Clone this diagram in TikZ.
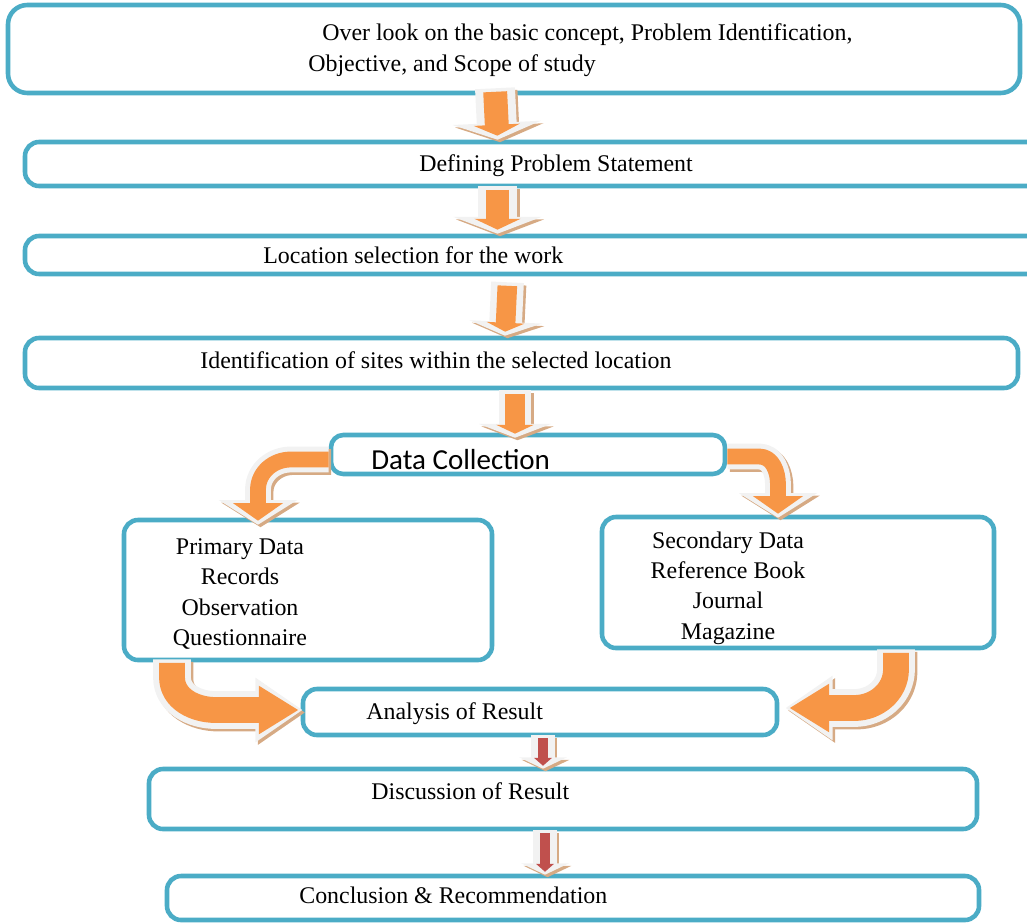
\documentclass[tikz,border=0pt]{standalone}
\usepackage{fontspec}
\setmainfont{Liberation Serif}
\newfontfamily\calibri{Carlito}
\usetikzlibrary{arrows.meta,fit,calc}
\definecolor{boxblue}{HTML}{4BACC6}
\definecolor{arrorange}{HTML}{F79646}
\definecolor{arrred}{HTML}{C0504D}
\definecolor{rimgray}{HTML}{F2F2F2}
\definecolor{shadowtan}{HTML}{D6AA84}
% block arrow: shadow, rim, then core
\def\BlockArrow#1#2#3{%
	\draw[#1,draw=shadowtan,transform canvas={shift={(2.5,2.5)}}] #3;
	\draw[#1] #3;
	\draw[#2] #3;}

\begin{document}
\begin{tikzpicture}[x=0.02cm,y=-0.02cm,% one unit is one pixel of the page, y going down
				every node/.style={align=center},
				box/.style={draw=boxblue,line width=2.6pt,rounded corners=8pt,inner sep=0pt},
				lbl/.style={font=\fontsize{13.6}{17.3}\selectfont,inner sep=0pt},
				sorim/.style={draw=rimgray,line width=#1*22.7pt,-{Triangle[width=50pt,length=9.6pt,scale=#1]}},
				socore/.style={draw=arrorange,line width=#1*13.6pt,shorten <=2pt,shorten >=2.3pt,-{Triangle[width=26pt,length=6.2pt,scale=#1]}},
				rdrim/.style={draw=rimgray,line width=13.6pt,-{Triangle[width=27pt,length=6.5pt]}},
				rdcore/.style={draw=arrred,line width=5.7pt,shorten <=1.7pt,shorten >=1.7pt,-{Triangle[width=10pt,length=4.5pt]}},
				ctrim/.style={draw=rimgray,line width=14.7pt,line join=round,-{Triangle[width=44pt,length=14pt]}},
				ctcore/.style={draw=arrorange,line width=9pt,line join=round,shorten >=2.3pt,-{Triangle[width=28pt,length=10pt]}},
				cbrim/.style={draw=rimgray,line width=21.5pt,line join=round,-{Triangle[width=35pt,length=27pt]}},
				cbcore/.style={draw=arrorange,line width=14.7pt,line join=round,shorten <=2pt,shorten >=2.3pt,-{Triangle[width=26pt,length=22.7pt]}}
			]
			\useasboundingbox (0,0) rectangle (1027,923);
			\clip (0,0) rectangle (1027,923);
			% boxes
			\node[box,rounded corners=11pt,fit={(8,5) (1020,93)}](R1){};
			\node[box,fit={(25,142) (1045,186)}](R2){};
			\node[box,fit={(25,236) (1045,274)}](R3){};
			\node[box,fit={(25,338) (1018,388)}](R4){};
			\node[box,rounded corners=7pt,fit={(331,435) (725,474)}](R5){};
			\node[box,fit={(124,520) (492,660)}](R6){};
			\node[box,fit={(602,517) (994,648)}](R7){};
			\node[box,fit={(303,689) (777,735)}](R8){};
			\node[box,fit={(149,769) (977,829)}](R9){};
			\node[box,fit={(167,876) (979,920)}](R10){};
			% texts
			\node[lbl,anchor=base west](T1a) at (322,40) {Over look on the basic concept, Problem Identification,};
			\node[lbl,anchor=base west](T1b) at (308,71) {Objective, and Scope of study};
			\node[lbl,anchor=base west](T2) at (419,171) {Defining Problem Statement};
			\node[lbl,anchor=base west](T3) at (263,263) {Location selection for the work};
			\node[lbl,anchor=base west](T4) at (200,368) {Identification of sites within the selected location};
			\node[lbl,anchor=base west,font=\calibri\fontsize{16.5}{20}\selectfont](T5) at (371,469) {Data Collection};
			\node[lbl](T6) at (240,594) {Primary Data \\ Records \\ Observation \\ Questionnaire};
			\node[lbl](T7) at (728,588) {Secondary Data \\ Reference Book \\ Journal \\ Magazine};
			\node[lbl,anchor=base west](T8) at (366,719) {Analysis of Result};
			\node[lbl,anchor=base west](T9) at (371,799) {Discussion of Result};
			\node[lbl,anchor=base west](T10) at (299,903) {Conclusion \& Recommendation};
			% straight arrows
			\BlockArrow{sorim=1}{socore=1}{($(R1.south)+(-19,-7)$) -- ($(R2.north)+(-37.5,0)$)}
			\BlockArrow{sorim=1}{socore=1}{($(R2.south)+(-37.5,-2)$) -- ($(R3.north)+(-37.5,0)$)}
			\BlockArrow{sorim=.82}{socore=.82}{($(R3.south)+(-27.5,6)$) -- ($(R4.north)+(-16.5,0)$)}
			\BlockArrow{sorim=.82}{socore=.82}{($(R4.south)+(-6.5,0)$) -- ($(R5.north)+(-13,5)$)}
			\BlockArrow{rdrim}{rdcore}{($(R8.south)+(3,-2)$) -- ($(R9.north)+(-20,2)$)}
			\BlockArrow{rdrim}{rdcore}{($(R9.south)+(-18,-1)$) -- ($(R10.north)+(-28,1)$)}
			% bent arrows
			\BlockArrow{ctrim}{ctcore}{($(R5.west)+(0,5)$) -- ++(-38,0) to[out=180,in=90] ($(R6.north)+(-50,-28)$) -- ($(R6.north)+(-50,7)$)}
			\BlockArrow{ctrim}{ctcore}{($(R5.east)+(0,2)$) -- ++(32,0) to[out=0,in=90] ($(R7.north)+(-20,-30)$) -- ($(R7.north)+(-20,3)$)}
			\BlockArrow{cbrim}{cbcore}{($(R6.south)+(-136,-3)$) -- ++(0,18) to[out=-90,in=180] ($(R8.west)+(-85,-2)$) -- ($(R8.west)+(2,-2)$)}
			\BlockArrow{cbrim}{cbcore}{($(R7.south)+(98,-1)$) -- ++(0,20) to[out=-90,in=0] ($(R8.east)+(75,-4)$) -- ($(R8.east)+(6,-4)$)}
		\end{tikzpicture}
\end{document}
